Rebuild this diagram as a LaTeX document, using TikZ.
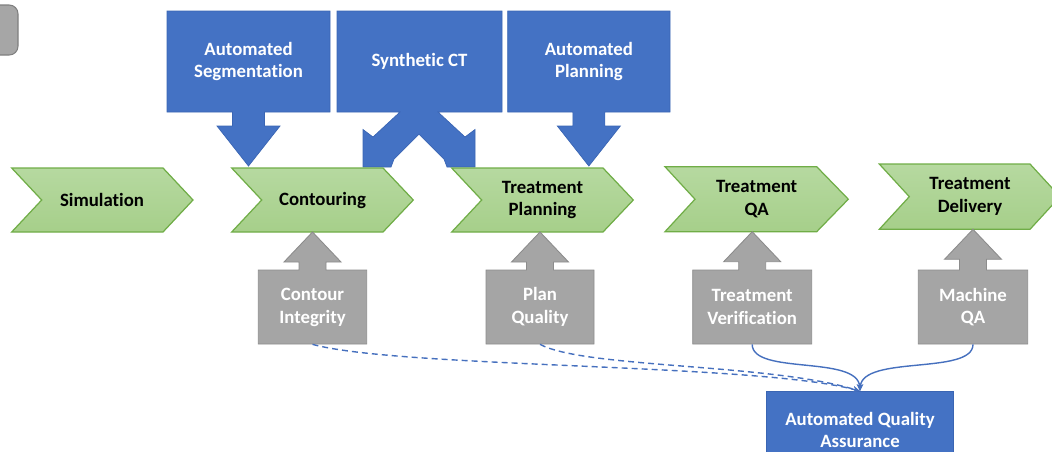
\documentclass[tikz,border=0pt]{standalone}
\usepackage{fontspec}
\setmainfont{Carlito}[Ligatures=CommonOff]
\usetikzlibrary{arrows.meta}

\definecolor{toolblue}{HTML}{4472C4}
\definecolor{tooledge}{HTML}{3A65B3}
\definecolor{steptop}{HTML}{B6D9A0}
\definecolor{stepbottom}{HTML}{A6CF8A}
\definecolor{stepedge}{HTML}{70AD47}
\definecolor{checkgray}{HTML}{A5A5A5}
\definecolor{checkedge}{HTML}{8C8C8C}
\definecolor{tabgray}{HTML}{A6A6A6}
\definecolor{tabedge}{HTML}{7F7F7F}
\definecolor{linkblue}{HTML}{4670BE}

% green process chevron: left, top, bottom, body end, point
\newcommand{\stepchevron}[5]{%
  \path[chevronfill] (#1,#2) -- (#4,#2) -- (#5,{(#2+#3)/2}) -- (#4,#3)
    -- (#1,#3) -- ({#1+30},{(#2+#3)/2}) -- cycle;}

% grey check box with an up arrow: left, right, tip of arrow
\newcommand{\checkcallout}[3]{%
  \pgfmathsetmacro\calloutmid{(#1+#2)/2}%
  \pgfmathsetmacro\calloutbase{#3+30}%
  \path[checkfill] (#1,270) -- ({\calloutmid-13.5},270) -- ({\calloutmid-13.5},\calloutbase)
    -- ({\calloutmid-28.5},\calloutbase) -- (\calloutmid,#3) -- ({\calloutmid+28.5},\calloutbase)
    -- ({\calloutmid+13.5},\calloutbase) -- ({\calloutmid+13.5},270) -- (#2,270)
    -- (#2,344) -- (#1,344) -- cycle;}

% blue tool box with a down arrow: left, right
\newcommand{\toolcallout}[2]{%
  \pgfmathsetmacro\calloutmid{(#1+#2)/2}%
  \path[toolfill] (#1,11) -- (#2,11) -- (#2,112) -- ({\calloutmid+16},112)
    -- ({\calloutmid+16},126) -- ({\calloutmid+31.5},126) -- (\calloutmid,166)
    -- ({\calloutmid-31.5},126) -- ({\calloutmid-16},126) -- ({\calloutmid-16},112)
    -- (#1,112) -- cycle;}

\begin{document}
\begin{tikzpicture}[x=0.02cm, y=-0.02cm,
  labeltext/.style={font=\fontsize{10.7}{13}\selectfont\bfseries, align=center, inner sep=0pt},
  steptext/.style={labeltext, text=black},
  whitetext/.style={labeltext, text=white},
  chevronfill/.style={top color=steptop, bottom color=stepbottom, draw=stepedge, line width=0.7pt, line join=miter},
  checkfill/.style={fill=checkgray, draw=checkedge, line width=0.5pt},
  toolfill/.style={fill=toolblue, draw=tooledge, line width=0.4pt},
  checkbox/.style={whitetext, minimum height=1.48cm},
  link/.style={draw=linkblue, line width=0.8pt, -{Stealth[length=4pt,width=3.4pt]}},
  dashlink/.style={link, dash pattern=on 3.4pt off 2.3pt}
]
\useasboundingbox (0,0) rectangle (1052,451);

% small tab at the top left
\path[fill=tabgray, draw=tabedge, line width=0.6pt, rounded corners=5pt] (-12,5) rectangle (18,55);

% tool boxes above the workflow
\toolcallout{167}{330}
\toolcallout{507.7}{670}
\path[toolfill] (337,11) -- (502,11) -- (502,112) -- (438,112) -- (465,137) -- (475,129.5)
  -- (475,167) -- (447,167) -- (444,159) -- (419,134) -- (394,159) -- (391,167)
  -- (363,167) -- (363,129.5) -- (373,137) -- (400,112) -- (337,112) -- cycle;
\node[whitetext] (seg) at (248.5,61.5) {Automated\\Segmentation};
\node[whitetext] (sct) at (419.5,61.5) {Synthetic CT};
\node[whitetext] (aplan) at (588.9,61.5) {Automated\\Planning};

% workflow chevrons
\stepchevron{11.7}{168}{232}{163}{193}
\stepchevron{231.7}{168}{232}{383}{413.3}
\stepchevron{451.7}{168}{232}{603}{633.3}
\stepchevron{665}{166.7}{231.7}{816.7}{848.3}
\stepchevron{879.3}{164}{229.3}{1030}{1060}
\node[steptext] (sim) at (102,200) {Simulation};
\node[steptext] (cont) at (322.5,200) {Contouring};
\node[steptext] (tplan) at (542.5,200) {Treatment\\Planning};
\node[steptext] (tqa) at (756.7,199.2) {Treatment\\QA};
\node[steptext] (tdel) at (970,196.7) {Treatment\\Delivery};

% quality checks below the workflow
\checkcallout{258.3}{366.7}{232}
\checkcallout{486}{594}{232}
\checkcallout{692.7}{811.7}{231.7}
\checkcallout{918.3}{1027.7}{229.3}
\node[checkbox] (ci) at (312.5,307) {Contour\\Integrity};
\node[checkbox] (pq) at (540,307) {Plan\\Quality};
\node[checkbox] (tv) at (752.2,307) {Treatment\\Verification};
\node[checkbox] (mqa) at (973,307) {Machine\\QA};

% automated QA collector
\node[whitetext, fill=toolblue, draw=tooledge, line width=0.4pt,
      minimum width=3.74cm, minimum height=1.54cm] (aqa) at (860,430)
      {Automated Quality\\Assurance};

% links into the automated QA
\draw[dashlink] (ci.south) .. controls +(88,24) and +(-100,-28) .. (aqa.north);
\draw[dashlink] (pq.south) .. controls +(45,24) and +(-90,-28) .. (aqa.north);
\draw[link] (tv.south) .. controls +(0,31) and +(-2,-36.5) .. (aqa.north);
\draw[link] (mqa.south) .. controls +(0,31) and +(2,-36.5) .. (aqa.north);
\end{tikzpicture}
\end{document}
